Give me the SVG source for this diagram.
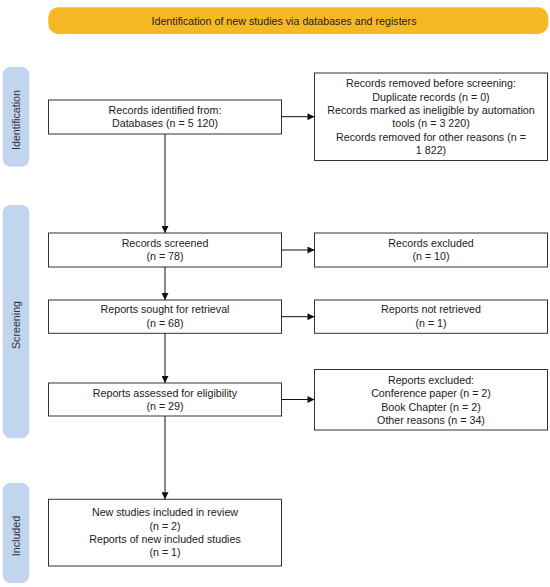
<svg xmlns="http://www.w3.org/2000/svg" width="550" height="587" viewBox="0 0 550 587">
<style>
text{font-family:"Liberation Sans",Arial,sans-serif;font-size:10.7px;fill:#222;text-anchor:middle}
.box{fill:#fff;stroke:#333;stroke-width:1}
.bar{fill:#C2D5EF}
.side{fill:#333}
.ln{stroke:#111;stroke-width:1;fill:none}
</style>
<defs>
<marker id="ah" viewBox="0 0 10 10" refX="10" refY="5" markerWidth="8" markerHeight="7" markerUnits="userSpaceOnUse" orient="auto">
<path d="M0,0 L10,5 L0,10 z" fill="#111"/>
</marker>
</defs>
<rect width="550" height="587" fill="#fff"/>
<g id="banner">
<rect x="48.3" y="7.3" width="500" height="26.7" rx="10" fill="#F6B926"/>
<text x="284" y="24.5">Identification of new studies via databases and registers</text>
</g>
<g id="phase-identification">
<rect class="bar" x="2.7" y="66.7" width="26.6" height="100" rx="8"/>
<text class="side" transform="translate(19.5,120) rotate(-90)">Identification</text>
</g>
<g id="phase-screening">
<rect class="bar" x="2.7" y="205" width="26.6" height="233.3" rx="8"/>
<text class="side" transform="translate(19.5,325) rotate(-90)">Screening</text>
</g>
<g id="phase-included">
<rect class="bar" x="2.7" y="482.7" width="26.6" height="100.3" rx="8"/>
<text class="side" transform="translate(19.5,536) rotate(-90)">Included</text>
</g>
<g id="records-identified">
<rect class="box" x="48.5" y="100" width="233" height="34"/>
<text x="165" y="113.8">Records identified from:</text>
<text x="165" y="127.1">Databases (n = 5 120)</text>
</g>
<g id="records-removed">
<rect class="box" x="314.5" y="73" width="233" height="87.5"/>
<text x="431" y="87.1">Records removed before screening:</text>
<text x="431" y="100.5">Duplicate records (n = 0)</text>
<text x="431" y="113.8">Records marked as ineligible by automation</text>
<text x="431" y="127.1">tools (n = 3 220)</text>
<text x="431" y="140.5">Records removed for other reasons (n =</text>
<text x="431" y="153.8">1 822)</text>
</g>
<g id="records-screened">
<rect class="box" x="48.5" y="233" width="233" height="34"/>
<text x="165" y="246.5">Records screened</text>
<text x="165" y="259.8">(n = 78)</text>
</g>
<g id="records-excluded">
<rect class="box" x="314.5" y="233" width="233" height="34"/>
<text x="431" y="246.5">Records excluded</text>
<text x="431" y="259.8">(n = 10)</text>
</g>
<g id="reports-sought">
<rect class="box" x="48.5" y="300" width="233" height="33.3"/>
<text x="165" y="313.1">Reports sought for retrieval</text>
<text x="165" y="326.5">(n = 68)</text>
</g>
<g id="reports-not-retrieved">
<rect class="box" x="314.5" y="300" width="233" height="33.3"/>
<text x="431" y="313.1">Reports not retrieved</text>
<text x="431" y="326.5">(n = 1)</text>
</g>
<g id="reports-assessed">
<rect class="box" x="48.5" y="383" width="233" height="33"/>
<text x="165" y="396.5">Reports assessed for eligibility</text>
<text x="165" y="409.8">(n = 29)</text>
</g>
<g id="reports-excluded">
<rect class="box" x="314.5" y="369.5" width="233" height="60.5"/>
<text x="431" y="383.8">Reports excluded:</text>
<text x="431" y="397.1">Conference paper (n = 2)</text>
<text x="431" y="410.5">Book Chapter (n = 2)</text>
<text x="431" y="423.8">Other reasons (n = 34)</text>
</g>
<g id="studies-included">
<rect class="box" x="48.5" y="499.3" width="233" height="66.7"/>
<text x="165" y="516.1">New studies included in review</text>
<text x="165" y="529.5">(n = 2)</text>
<text x="165" y="542.8">Reports of new included studies</text>
<text x="165" y="556.1">(n = 1)</text>
</g>
<g id="connectors">
<line class="ln" x1="165" y1="134" x2="165" y2="233" marker-end="url(#ah)"/>
<line class="ln" x1="165" y1="267" x2="165" y2="300" marker-end="url(#ah)"/>
<line class="ln" x1="165" y1="333.3" x2="165" y2="383" marker-end="url(#ah)"/>
<line class="ln" x1="165" y1="416" x2="165" y2="499.3" marker-end="url(#ah)"/>
<line class="ln" x1="281.5" y1="116.7" x2="314.5" y2="116.7" marker-end="url(#ah)"/>
<line class="ln" x1="281.5" y1="250" x2="314.5" y2="250" marker-end="url(#ah)"/>
<line class="ln" x1="281.5" y1="316.7" x2="314.5" y2="316.7" marker-end="url(#ah)"/>
<line class="ln" x1="281.5" y1="399.5" x2="314.5" y2="399.5" marker-end="url(#ah)"/>
</g>
</svg>
